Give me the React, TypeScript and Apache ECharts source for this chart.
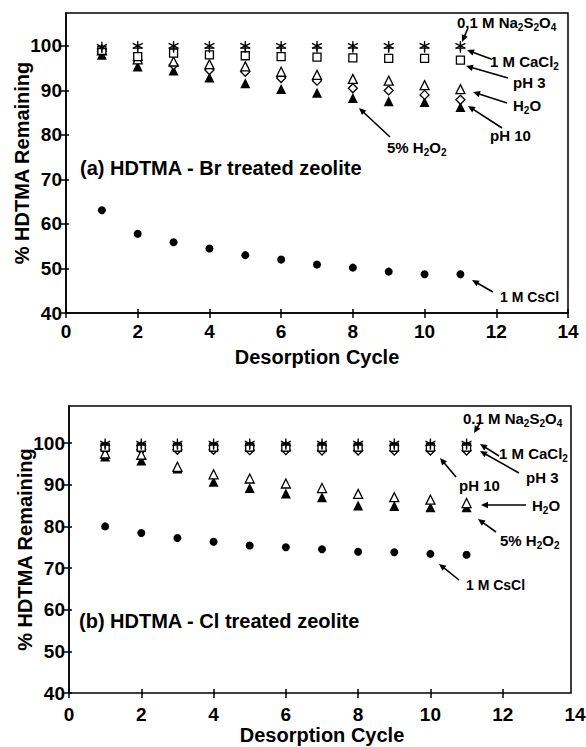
import React, { useEffect, useRef } from "react";
import * as echarts from "echarts";

// ---------- data ----------
const cycles = [1, 2, 3, 4, 5, 6, 7, 8, 9, 10, 11];

// (a) HDTMA - Br treated zeolite
const brNa2S2O4 = [99.8, 100, 100, 100, 100, 100, 100, 100, 100, 100, 100];
const brCaCl2 = [99.4, 99.5, 99.5, 99.5, 99.5, 99.5, 99.5, 99.5, 99.5, 99.5, 99.5];
const brPH3 = [99.0, 97.6, 98.4, 98.0, 97.8, 97.6, 97.5, 97.3, 97.2, 97.2, 96.8];
const brH2O = [99.0, 97.0, 96.5, 95.9, 95.4, 94.2, 93.5, 92.6, 92.2, 91.2, 90.3];
const brPH10 = [98.8, 96.8, 95.7, 94.6, 94.2, 92.8, 92.2, 90.5, 90.0, 89.0, 87.9];
const brH2O2 = [98.0, 95.4, 94.5, 92.9, 91.6, 90.3, 89.5, 88.3, 87.6, 87.4, 86.3];
const brCsCl = [63.1, 57.8, 55.9, 54.5, 53.0, 52.0, 50.9, 50.2, 49.3, 48.7, 48.7];

// (b) HDTMA - Cl treated zeolite
const clNa2S2O4 = [99.9, 99.9, 99.9, 99.9, 99.9, 99.9, 99.9, 99.9, 99.9, 99.9, 99.9];
const clCaCl2 = [99.5, 99.5, 99.5, 99.5, 99.5, 99.5, 99.5, 99.5, 99.5, 99.5, 99.5];
const clPH3 = [99.0, 99.0, 99.0, 99.0, 99.0, 99.0, 99.0, 99.0, 99.0, 99.0, 99.0];
const clPH10 = [98.4, 98.4, 98.4, 98.4, 98.3, 98.3, 98.2, 98.2, 98.2, 98.2, 98.2];
const clH2O = [97.5, 97.2, 94.3, 92.5, 91.5, 90.3, 89.2, 87.8, 87.0, 86.4, 85.6];
const clH2O2 = [96.8, 95.8, 93.9, 90.7, 89.2, 87.9, 87.0, 85.0, 84.9, 84.6, 84.6];
const clCsCl = [80.0, 78.4, 77.2, 76.3, 75.4, 75.0, 74.5, 73.9, 73.8, 73.4, 73.2];

const xTickValues = [0, 2, 4, 6, 8, 10, 12, 14];
const xTickMarksB = [0, 2, 4, 6, 8, 10, 12];
const yTickValues = [40, 50, 60, 70, 80, 90, 100];

const xTitle = "Desorption Cycle";
const yTitle = "% HDTMA Remaining";
const panelTitles = ["(a) HDTMA - Br treated zeolite", "(b) HDTMA - Cl treated zeolite"];

// ---------- styling helpers ----------
const FONT = "'Liberation Sans', Arial, Helvetica, sans-serif";
const BLACK = "#000";

const ASTERISK = "path://M5 0 L5 10 M0.67 2.5 L9.33 7.5 M0.67 7.5 L9.33 2.5";
const PLUS = "path://M5 0 L5 10 M0 5 L10 5";

type Marker = { symbol: string; size: number; fill: string; stroke: boolean; z: number };
const markers: Record<string, Marker> = {
  h2o2: { symbol: "triangle", size: 10, fill: BLACK, stroke: false, z: 2 },
  csCl: { symbol: "circle", size: 8, fill: BLACK, stroke: false, z: 2 },
  ph10: { symbol: "diamond", size: 9, fill: "#fff", stroke: true, z: 3 },
  h2o: { symbol: "triangle", size: 9, fill: "#fff", stroke: true, z: 4 },
  ph3: { symbol: "rect", size: 8, fill: "#fff", stroke: true, z: 5 },
  caCl2: { symbol: PLUS, size: 9, fill: "rgba(0,0,0,0)", stroke: true, z: 6 },
  na2s2o4: { symbol: ASTERISK, size: 10, fill: "rgba(0,0,0,0)", stroke: true, z: 7 },
};

function makeSeries(idx: number, name: string, values: number[], key: string) {
  const m = markers[key];
  return {
    type: "scatter",
    name,
    xAxisIndex: idx * 2,
    yAxisIndex: idx * 2,
    data: cycles.map((c, i) => [c, values[i]]),
    symbol: m.symbol,
    symbolSize: m.size,
    z: m.z,
    itemStyle: {
      color: m.fill,
      borderColor: BLACK,
      borderWidth: m.stroke ? 1.3 : 0,
      opacity: 1,
    },
    emphasis: { disabled: true },
  };
}

function mainX(gridIndex: number, margin: number, nameGap: number, showLine: boolean, tickMarks: number[]) {
  return {
    type: "value",
    gridIndex,
    min: 0,
    max: 14,
    interval: 2,
    position: "bottom",
    name: xTitle,
    nameLocation: "middle",
    nameGap,
    nameMoveOverlap: false,
    nameTextStyle: { fontSize: 20, fontWeight: "bold", color: BLACK, fontFamily: FONT },
    axisLine: { show: showLine, onZero: false, lineStyle: { color: BLACK, width: 1.5 } },
    axisTick: {
      show: true,
      inside: false,
      length: 5,
      customValues: tickMarks,
      lineStyle: { color: BLACK, width: 1.5 },
    },
    axisLabel: {
      margin,
      fontSize: 19,
      fontWeight: "bold",
      color: BLACK,
      fontFamily: FONT,
      formatter: (v: number) => (xTickValues.includes(v) ? String(v) : ""),
    },
    splitLine: { show: false },
  };
}
function innerX(gridIndex: number, tickMarks: number[]) {
  return {
    type: "value",
    gridIndex,
    min: 0,
    max: 14,
    interval: 2,
    position: "bottom",
    axisLine: { show: false },
    axisTick: {
      show: true,
      inside: true,
      length: 4,
      customValues: tickMarks,
      lineStyle: { color: BLACK, width: 1.5 },
    },
    axisLabel: { show: false },
    splitLine: { show: false },
  };
}
function mainY(gridIndex: number, max: number) {
  return {
    type: "value",
    gridIndex,
    min: 40,
    max,
    interval: 10,
    position: "left",
    name: yTitle,
    nameLocation: "middle",
    nameGap: 34,
    nameMoveOverlap: false,
    nameTextStyle: { fontSize: 20, fontWeight: "bold", color: BLACK, fontFamily: FONT },
    axisLine: { show: true, onZero: false, lineStyle: { color: BLACK, width: 1.5 } },
    axisTick: {
      show: true,
      inside: false,
      length: 5,
      customValues: yTickValues,
      lineStyle: { color: BLACK, width: 1.5 },
    },
    axisLabel: {
      margin: 4,
      fontSize: 19,
      fontWeight: "bold",
      color: BLACK,
      fontFamily: FONT,
      formatter: (v: number) => (yTickValues.includes(v) ? String(v) : ""),
    },
    splitLine: { show: false },
  };
}
function innerY(gridIndex: number, max: number) {
  return {
    type: "value",
    gridIndex,
    min: 40,
    max,
    interval: 10,
    position: "left",
    axisLine: { show: false },
    axisTick: {
      show: true,
      inside: true,
      length: 3,
      customValues: yTickValues,
      lineStyle: { color: BLACK, width: 1.5 },
    },
    axisLabel: { show: false },
    splitLine: { show: false },
  };
}

const SUB = { fontSize: 10, fontWeight: "bold", fontFamily: FONT, fill: BLACK, padding: [10, 0, 0, 0] };

function label(text: string, x: number, y: number, fontSize = 15) {
  return {
    type: "text",
    x,
    y,
    silent: true,
    z: 10,
    style: {
      text,
      fill: BLACK,
      fontSize,
      fontWeight: "bold",
      fontFamily: FONT,
      align: "left",
      verticalAlign: "middle",
      rich: { s: SUB },
    },
  };
}

function arrow(x1: number, y1: number, x2: number, y2: number) {
  const dx = x2 - x1;
  const dy = y2 - y1;
  const len = Math.sqrt(dx * dx + dy * dy);
  const ux = dx / len;
  const uy = dy / len;
  const hl = 7;
  const hw = 3.2;
  const bx = x2 - ux * hl;
  const by = y2 - uy * hl;
  return [
    {
      type: "line",
      silent: true,
      z: 10,
      shape: { x1, y1, x2: x2 - ux * 4, y2: y2 - uy * 4 },
      style: { stroke: BLACK, lineWidth: 1.6 },
    },
    {
      type: "polygon",
      silent: true,
      z: 10,
      shape: {
        points: [
          [x2, y2],
          [bx - uy * hw, by + ux * hw],
          [bx + uy * hw, by - ux * hw],
        ],
      },
      style: { fill: BLACK },
    },
  ];
}

export default function App() {
  const ref = useRef<HTMLDivElement>(null);

  useEffect(() => {
    if (!ref.current) return;
    const chart = echarts.init(ref.current, undefined, { renderer: "svg" });

    const series = [
      makeSeries(0, "5% H2O2", brH2O2, "h2o2"),
      makeSeries(0, "pH 10", brPH10, "ph10"),
      makeSeries(0, "H2O", brH2O, "h2o"),
      makeSeries(0, "pH 3", brPH3, "ph3"),
      makeSeries(0, "1 M CaCl2", brCaCl2, "caCl2"),
      makeSeries(0, "0.1 M Na2S2O4", brNa2S2O4, "na2s2o4"),
      makeSeries(0, "1 M CsCl", brCsCl, "csCl"),
      makeSeries(1, "5% H2O2", clH2O2, "h2o2"),
      makeSeries(1, "H2O", clH2O, "h2o"),
      makeSeries(1, "pH 10", clPH10, "ph10"),
      makeSeries(1, "pH 3", clPH3, "ph3"),
      makeSeries(1, "1 M CaCl2", clCaCl2, "caCl2"),
      makeSeries(1, "0.1 M Na2S2O4", clNa2S2O4, "na2s2o4"),
      makeSeries(1, "1 M CsCl", clCsCl, "csCl"),
    ];

    const graphics: any[] = [
      // frame of panel (b) (its x axis runs slightly past the frame)
      {
        type: "rect",
        silent: true,
        z: 1,
        shape: { x: 69, y: 406, width: 502, height: 287 },
        style: { fill: "none", stroke: BLACK, lineWidth: 1.5 },
      },
      // panel (a)
      label(panelTitles[0], 80, 168, 20),
      label("0.1 M Na{s|2}S{s|2}O{s|4}", 457, 22),
      ...arrow(468, 28, 462, 42),
      label("1 M CaCl{s|2}", 490, 61),
      ...arrow(491, 59, 467, 50),
      label("pH 3", 513, 82),
      ...arrow(508, 78, 466, 66),
      label("H{s|2}O", 513, 105),
      ...arrow(507, 103, 473, 92),
      label("pH 10", 490, 135),
      ...arrow(502, 128, 468, 106),
      label("5% H{s|2}O{s|2}", 387, 147),
      ...arrow(390, 137, 359, 108),
      label("1 M CsCl", 500, 297, 14),
      ...arrow(493, 292, 472, 280),
      // panel (b)
      label(panelTitles[1], 79, 621, 20),
      label("0.1 M Na{s|2}S{s|2}O{s|4}", 463, 418),
      ...arrow(480, 423, 474, 433),
      label("1 M CaCl{s|2}", 499, 453),
      ...arrow(499, 456, 480, 444),
      label("pH 3", 526, 477),
      ...arrow(519, 473, 480, 451),
      label("pH 10", 459, 485),
      ...arrow(456, 477, 440, 458),
      label("H{s|2}O", 532, 505),
      ...arrow(526, 505, 481, 505),
      label("5% H{s|2}O{s|2}", 500, 540),
      ...arrow(496, 532, 478, 519),
      label("1 M CsCl", 466, 585, 14),
      ...arrow(459, 580, 439, 564),
    ];

    chart.setOption({
      animation: false,
      backgroundColor: "#fff",
      textStyle: { fontFamily: FONT },
      grid: [
        {
          left: 66, top: 13, width: 502, height: 300,
          show: true, borderColor: BLACK, borderWidth: 1.5, backgroundColor: "transparent",
          containLabel: false, outerBoundsMode: "none",
        },
        {
          left: 69, top: 406, width: 506, height: 287,
          show: false, containLabel: false, outerBoundsMode: "none",
        },
      ],
      xAxis: [
        mainX(0, 9, 34, true, xTickValues),
        innerX(0, xTickValues),
        mainX(1, 12, 32, false, xTickMarksB),
        innerX(1, xTickMarksB),
      ],
      yAxis: [mainY(0, 107.4), innerY(0, 107.4), mainY(1, 108.9), innerY(1, 108.9)],
      series,
      graphic: graphics,
    });

    return () => {
      chart.dispose();
    };
  }, []);

  return (
    <div
      ref={ref}
      style={{ position: "absolute", left: 0, top: 0, width: 586, height: 747, background: "#fff" }}
    />
  );
}
